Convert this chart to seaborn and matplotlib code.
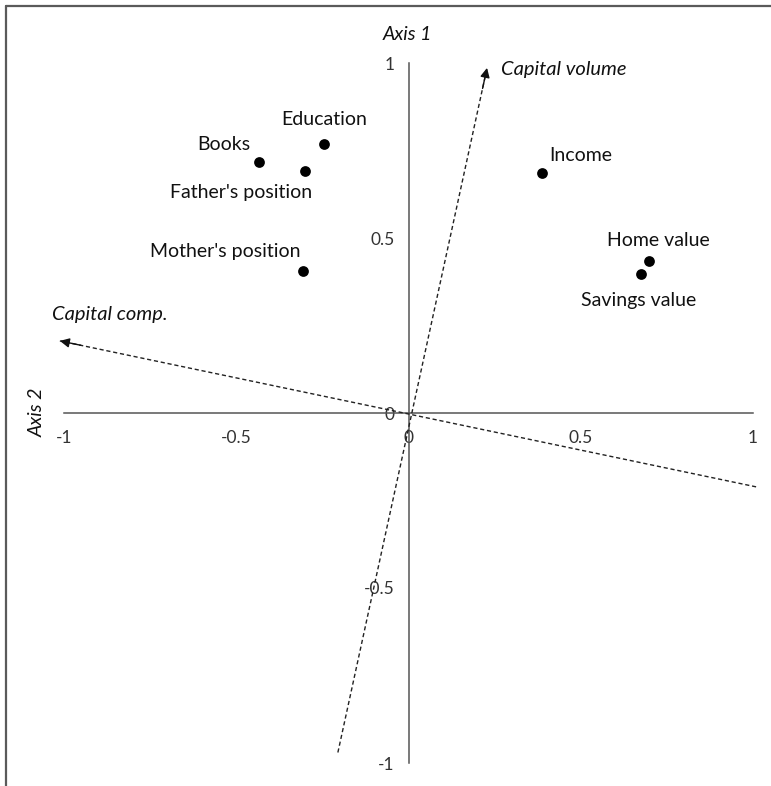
import matplotlib
matplotlib.use("Agg")
import matplotlib.pyplot as plt
from matplotlib.lines import Line2D
import numpy as np
import pandas as pd
import seaborn as sns

# Variable coordinates on the two factor axes
variables = ["Books", "Education", "Father's position", "Mother's position",
             "Income", "Home value", "Savings value"]
axis2 = [-0.434, -0.244, -0.299, -0.306, 0.387, 0.699, 0.675]
axis1 = [0.716, 0.768, 0.692, 0.407, 0.687, 0.434, 0.396]

# Rotated interpretive axes (start point -> arrow tip)
capital_volume = [(-0.205, -0.97), (0.228, 0.986)]
capital_comp = [(1.009, -0.211), (-1.012, 0.206)]

tick_values = [-1, -0.5, 0, 0.5, 1]
tick_labels = ["-1", "-0.5", "0", "0.5", "1"]

df = pd.DataFrame({"variable": variables, "axis2": axis2, "axis1": axis1})

sns.set_theme(style="white")
plt.rcParams["font.family"] = ["Lato", "DejaVu Sans"]

W, H = 771, 786
fig = plt.figure(figsize=(W / 100, H / 100), dpi=100)
ax = fig.add_axes([64 / W, (H - 763) / H, 689 / W, 700 / H])
ax.set_xlim(-1, 1)
ax.set_ylim(-1, 1)

sns.scatterplot(data=df, x="axis2", y="axis1", color="black", s=60,
                edgecolor="black", linewidth=0, ax=ax, zorder=4)

# label offsets in pixels from each point
offsets = {
    "Books": (-35, 18),
    "Education": (0, 25),
    "Father's position": (-64, -22),
    "Mother's position": (-78, 19),
    "Income": (39, 17),
    "Home value": (9, 21),
    "Savings value": (-2, -26),
}
for name, x, y in zip(variables, axis2, axis1):
    ax.annotate(name, (x, y), xytext=offsets[name], textcoords="offset pixels",
                ha="center", va="center", fontsize=14, color="#111111")

# dashed interpretive axes with arrow heads
for (x0, y0), (x1, y1) in (capital_volume, capital_comp):
    ax.plot([x0, x1], [y0, y1], linestyle=(0, (3, 2)), color="#222222",
            lw=1.0, clip_on=False, zorder=3)
    dx, dy = x1 - x0, y1 - y0
    ax.annotate("", xy=(x1, y1), xytext=(x1 - 0.03 * dx, y1 - 0.03 * dy),
                arrowprops=dict(arrowstyle="-|>", color="#111111", lw=1,
                                mutation_scale=14, shrinkA=0, shrinkB=0),
                annotation_clip=False, zorder=3)

ax.text(capital_volume[1][0] + 0.04, capital_volume[1][1] - 0.005, "Capital volume",
        fontsize=14.5, style="italic", ha="left", va="center", color="#111111")
ax.text(capital_comp[1][0] - 0.022, capital_comp[1][1] + 0.075, "Capital comp.",
        fontsize=14.5, style="italic", ha="left", va="center", color="#111111")

# axes crossing at the origin
for side in ("top", "right"):
    ax.spines[side].set_visible(False)
for side in ("left", "bottom"):
    ax.spines[side].set_position("zero")
    ax.spines[side].set_color("#555555")
    ax.spines[side].set_linewidth(1.1)

ax.set_xticks(tick_values)
ax.set_xticklabels(tick_labels)
ax.set_yticks(tick_values)
ax.set_yticklabels(tick_labels)
ax.tick_params(axis="both", length=0, labelsize=12.5, colors="#333333")
ax.tick_params(axis="x", pad=12)
ax.tick_params(axis="y", pad=10)
ax.set_xlabel("")
ax.set_ylabel("")
ax.set_facecolor("white")

fig.text(407 / W, 1 - 34 / H, "Axis 1", fontsize=14, style="italic",
         ha="center", va="center", color="#111111")
fig.text(37 / W, 1 - 412 / H, "Axis 2", fontsize=14, style="italic",
         rotation=90, ha="center", va="center", color="#111111")

# frame lines along the top and left edges
fig.add_artist(Line2D([5.5 / W, 1], [1 - 5.5 / H, 1 - 5.5 / H],
                      transform=fig.transFigure, color="#5a5a5a", lw=1.6))
fig.add_artist(Line2D([5.5 / W, 5.5 / W], [0, 1 - 5.5 / H],
                      transform=fig.transFigure, color="#5a5a5a", lw=1.6))

fig.savefig("out.png", dpi=100, facecolor="white")
